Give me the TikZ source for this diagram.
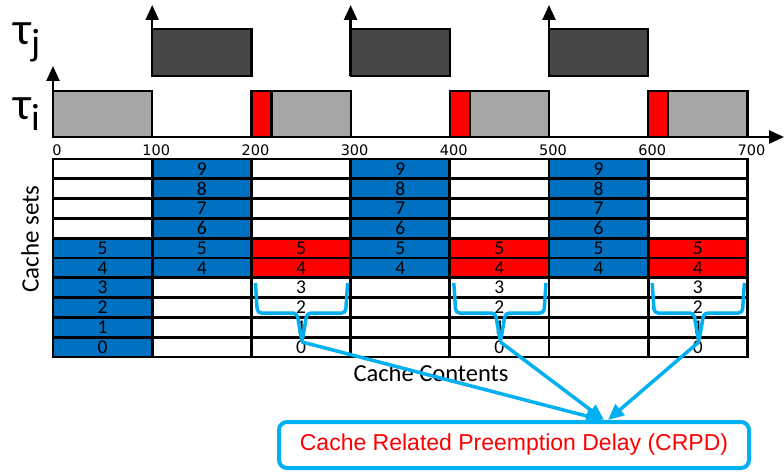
\documentclass[tikz,border=0pt]{standalone}
\usepackage{fontspec}
\setmainfont{Carlito}
\newfontfamily\arialfont{Liberation Sans}
\newfontfamily\tickfont{DejaVu Sans}
\usetikzlibrary{arrows.meta}

\definecolor{cacheblue}{HTML}{0070C0}
\definecolor{crpdred}{HTML}{FF0000}
\definecolor{taskgray}{HTML}{A6A6A6}
\definecolor{taskdark}{HTML}{474747}
\definecolor{crpdcyan}{HTML}{00B0F0}

\tikzset{
  cachecell/.style={draw, line width=2.8pt, rectangle, minimum width=99.2pt, minimum height=19.8pt, inner sep=0pt, font=\fontsize{19.5}{19.5}\selectfont},
  usedcell/.style={cachecell, fill=cacheblue},
  evictcell/.style={cachecell, fill=crpdred},
  emptycell/.style={cachecell, fill=white},
  taskbox/.style={draw, line width=2.2pt},
  axisarrow/.style={line width=2.5pt, -{Triangle[length=15pt,width=13pt]}},
  crpdarrow/.style={draw=crpdcyan, line width=3.5pt, -{Triangle[length=16pt,width=14pt]}},
  bracepath/.style={draw=crpdcyan, line width=3.5pt, rounded corners=4pt},
}

\begin{document}
\begin{tikzpicture}[x=1pt, y=-1pt]
    \useasboundingbox (0,0) rectangle (784,473);

    % task labels
    \node[anchor=base west, inner sep=0pt] (tau-j) at (13,45) {\fontsize{46}{46}\selectfont τ\raisebox{-11pt}{\fontsize{38}{38}\selectfont j}};
    \node[anchor=base west, inner sep=0pt] (tau-i) at (13,120) {\fontsize{46}{46}\selectfont τ\raisebox{-11pt}{\fontsize{38}{38}\selectfont i}};

    % tau_j jobs
    \draw[taskbox, fill=taskdark] (152.2,29) rectangle (251.4,76);
    \draw[taskbox, fill=taskdark] (350.6,29) rectangle (449.8,76);
    \draw[taskbox, fill=taskdark] (549,29) rectangle (648.2,76);

    % tau_i jobs
    \draw[taskbox, fill=taskgray] (53,91) rectangle (152.2,137);
    \draw[taskbox, fill=crpdred] (251.4,91) rectangle (271.4,137);
    \draw[taskbox, fill=taskgray] (271.4,91) rectangle (350.6,137);
    \draw[taskbox, fill=crpdred] (449.8,91) rectangle (469.8,137);
    \draw[taskbox, fill=taskgray] (469.8,91) rectangle (549,137);
    \draw[taskbox, fill=crpdred] (648.2,91) rectangle (668.2,137);
    \draw[taskbox, fill=taskgray] (668.2,91) rectangle (747.4,137);

    % axes
    \coordinate (origin) at (53,137);
    \coordinate (time-end) at (784,137);
    \coordinate (ti-top) at (53,66);
    \draw[axisarrow] (origin) -- (time-end);
    \draw[axisarrow] (origin) -- (ti-top);
    \foreach \x [count=\k] in {152.2,350.6,549} {
        \coordinate (rel-\k) at (\x,76);
        \coordinate (rel-top-\k) at (\x,5);
        \draw[axisarrow] (rel-\k) -- (rel-top-\k);
    }
    \foreach \t in {0,100,...,700}
        \node[font=\tickfont\fontsize{14.5}{14.5}\selectfont, inner sep=0pt] (tick-\t) at ({57+0.992*\t},150) {\t};

    % cache contents
    \foreach \r in {0,...,5}
        \node[usedcell] (cell-0-\r) at (102.6,{347.1-19.8*\r}) {\r};
    \foreach \r in {6,...,9}
        \node[emptycell] (cell-0-\r) at (102.6,{347.1-19.8*\r}) {};
    \foreach \c in {1,3,5} {
        \foreach \r in {0,...,3}
            \node[emptycell] (cell-\c-\r) at ({102.6+99.2*\c},{347.1-19.8*\r}) {};
        \foreach \r in {4,...,9}
            \node[usedcell] (cell-\c-\r) at ({102.6+99.2*\c},{347.1-19.8*\r}) {\r};
    }
    \foreach \c in {2,4,6} {
        \foreach \r in {0,...,3}
            \node[emptycell] (cell-\c-\r) at ({102.6+99.2*\c},{347.1-19.8*\r}) {\r};
        \foreach \r in {4,5}
            \node[evictcell] (cell-\c-\r) at ({102.6+99.2*\c},{347.1-19.8*\r}) {\r};
        \foreach \r in {6,...,9}
            \node[emptycell] (cell-\c-\r) at ({102.6+99.2*\c},{347.1-19.8*\r}) {};
    }

    \node[rotate=90, font=\fontsize{25}{25}\selectfont] (sets-label) at (30,239) {Cache sets};
    \node[font=\fontsize{24.5}{24.5}\selectfont] (contents-label) at (431,373) {Cache Contents};

    % reloaded blocks
    \foreach \c in {2,4,6} {
        \pgfmathsetmacro{\bl}{53+99.2*\c+4}
        \pgfmathsetmacro{\br}{53+99.2*(\c+1)-3}
        \pgfmathsetmacro{\bm}{53+99.2*\c+50.6}
        \draw[bracepath] (\bl,283) -- (\bl+2,313) -- (\bm-5,313) -- (\bm,342)
            -- (\bm+5,313) -- (\br-2,313) -- (\br,283);
        \coordinate (tip-\c) at (\bm,342);
    }

    \node[draw=crpdcyan, line width=4pt, rounded corners=8pt, minimum width=470pt, minimum height=46pt,
        text=crpdred, font=\arialfont\fontsize{23}{23}\selectfont] (crpd) at (514,445) {Cache Related Preemption Delay (CRPD)};

    \draw[crpdarrow] (tip-2) -- ([xshift=88pt]crpd.north);
    \draw[crpdarrow] (tip-4) -- ([xshift=90pt]crpd.north);
    \draw[crpdarrow] (tip-6) -- ([xshift=94pt]crpd.north);
\end{tikzpicture}
\end{document}
